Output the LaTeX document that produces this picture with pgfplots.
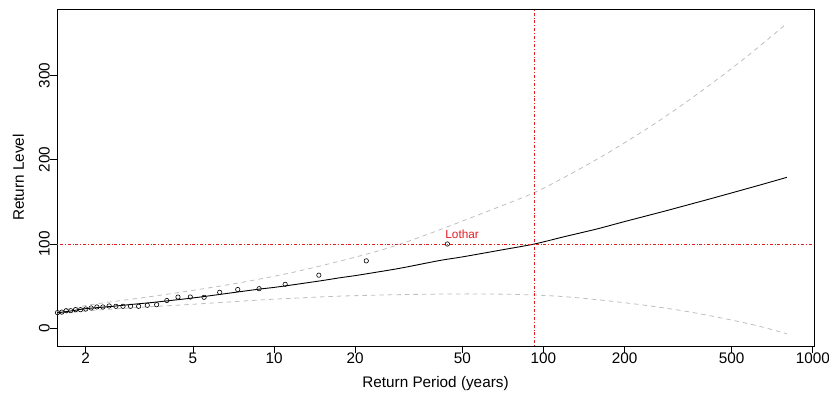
\documentclass[border=0pt]{standalone}
\usepackage{pgfplots}
\pgfplotsset{compat=1.18}
\usepackage{fontspec}
\setmainfont{Liberation Sans}
\newcommand\fs{\fontsize{15.3}{18}\selectfont}
\definecolor{rred}{RGB}{228,28,36}
\definecolor{cigray}{RGB}{190,190,190}
\begin{document}
\begin{tikzpicture}
\begin{axis}[
  scale only axis, width=757pt, height=337pt,
  xmode=log, xmin=1.5645, xmax=1010.2, ymin=-21, ymax=378.8,
  xtick={2,5,10,20,50,100,200,500,1000},
  xticklabels={2,5,10,20,50,100,200,500,1000},
  minor xtick={}, 
  ytick={0,100,200,300}, yticklabels={0,100,200,300},
  tick align=outside, major tick length=7pt,
  tick style={black, line width=0.7pt},
  xtick pos=bottom, ytick pos=left,
  axis line style={black, line width=0.8pt},
  /pgf/number format/assume math mode=true,
  xticklabel style={font=\fs, anchor=north, inner sep=0pt},
  yticklabel style={font=\fs, rotate=90, anchor=south, inner sep=0pt},
  xlabel={Return Period (years)}, ylabel={Return Level},
  xlabel style={font=\fs, at={(axis description cs:0.5,-0.12255)}, anchor=base, inner sep=0pt},
  ylabel style={font=\fs, at={(axis description cs:-0.04359,0.5)}, anchor=base, inner sep=0pt},
]
% confidence bounds
\addplot[cigray, line width=0.8pt, dash pattern=on 4.5pt off 4pt, smooth, tension=0.5] coordinates {
(1.565,19.5)(2,27)(2.5,31.5)(3.46,37.5)(5,45)(7,52.5)(8.87,58.5)(12,67)(17.6,79.8)(24.8,92.5)(31.7,103.5)(41.3,117)(60,137)(92.5,161)(129,184.8)(176.7,209.6)(240,236)(278.8,249.6)(360,274.4)(479,303.8)(619,331.9)(801,361.7)};
\addplot[cigray, line width=0.8pt, dash pattern=on 4.5pt off 4pt, smooth, tension=0.5] coordinates {
(1.565,17)(2,20.5)(2.5,22.8)(3.46,25.6)(5,28.5)(8.87,33.6)(12,35.8)(17.6,38.2)(30,40)(50,40.8)(70,40.5)(92.5,39.5)(120,37.5)(162,33.6)(235,27.6)(345,19.7)(500,9.8)(650,1.5)(801,-6.5)};
% return level curve
\addplot[black, line width=0.9pt, smooth, tension=0.5] coordinates {
(1.565,18.3)(1.8,21)(2,23.3)(2.5,26)(3,28.5)(3.5,30.5)(4,32.5)(5,36)(6,39.3)(7,42.2)(8.87,46.6)(10,48.5)(12,52)(15,56.5)(17.6,60)(20,62.5)(24.8,67.3)(30,71.8)(41.3,80.5)(50,84.7)(70,93)(92.5,100)(120,108.8)(157.7,117.8)(200,126.6)(278.8,138.6)(350,147.1)(400,152.1)(493,160.1)(650,170.8)(801,179.1)};
% reference lines
\addplot[rred, line width=0.8pt, dash pattern=on 0.8pt off 2pt on 3pt off 2pt] coordinates {(1.5645,100)(1010.2,100)};
\addplot[rred, line width=0.8pt, dash pattern=on 0.8pt off 2pt on 3pt off 2pt] coordinates {(92.5,-21)(92.5,378.8)};
% empirical points
\addplot[only marks, mark=o, mark size=2.2pt, mark options={black, line width=0.6pt}] coordinates {
(44,100)(22,80)(14.667,63)(11,52.2)(8.8,47)(7.333,46)(6.286,42.7)(5.5,36.8)(4.889,37.1)(4.4,37.1)(4,33)(3.667,28)(3.385,27.3)(3.143,26.1)(2.933,26.1)(2.75,26.1)(2.588,26.1)(2.444,26.5)(2.316,25.3)(2.2,25.3)(2.095,24.1)(2,22.9)(1.913,22.1)(1.833,22.1)(1.76,20.9)(1.692,20.9)(1.63,19.2)(1.571,18.6)};
\node[rred, anchor=base west, inner sep=0pt, font=\fontsize{11.8}{14}\selectfont] at (axis cs:43.2,106) {Lothar};
\end{axis}
\pgfresetboundingbox
\path[use as bounding box] (-57pt,-48pt) rectangle (772pt,346pt);
\end{tikzpicture}
\end{document}
